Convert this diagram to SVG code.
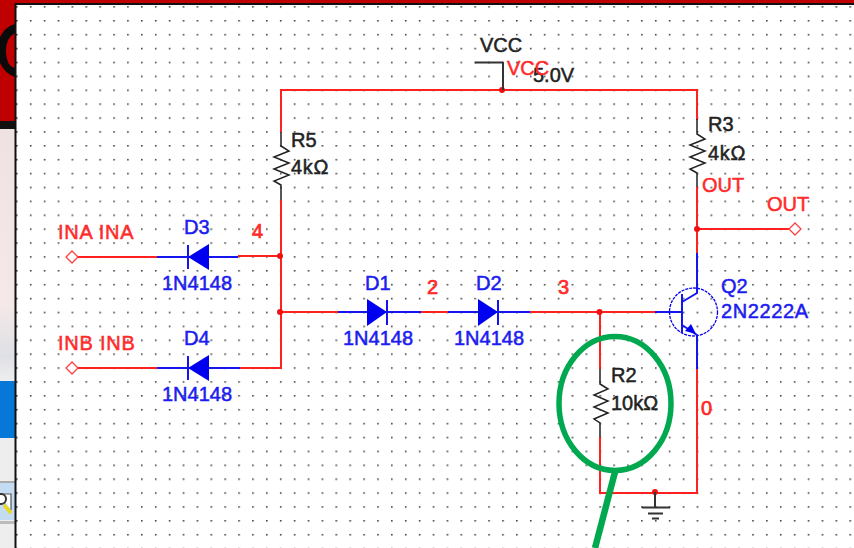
<svg xmlns="http://www.w3.org/2000/svg" width="854" height="548" viewBox="0 0 854 548">
<style>
text{font-family:"Liberation Sans",Arial,sans-serif;font-size:20px;stroke-width:.5}
.k{fill:#222;stroke:#222}.r{fill:#ff2a2a;stroke:#ff2a2a}.b{fill:#1c1cf0;stroke:#1c1cf0}
.n{stroke-width:.7}
.s{letter-spacing:.75px}
.wr,.wk{fill:none;stroke-width:2}
.wr{stroke:#ff2020}.wk{stroke:#333}
.dot{fill:#f01010}
.di{fill:#0000f0}
.ln{fill:none;stroke:#1515f0;stroke-width:2}
.port{fill:#fff;stroke:#ff4040;stroke-width:1.3}
.res{fill:none;stroke:#222;stroke-width:1.5}
.green{fill:none;stroke:#00a850}
</style>
<defs>
<pattern id="grid" x="16" y="6.100" width="13.89" height="13.89" patternUnits="userSpaceOnUse"><rect x="0" y="0" width="1.6" height="1.6" fill="#444"/></pattern>
<linearGradient id="pk" x1="0" y1="0" x2="0" y2="1"><stop offset="0" stop-color="#efe2e2"/><stop offset="0.7" stop-color="#f5e8e8"/><stop offset="0.9" stop-color="#dfe0e6"/><stop offset="1" stop-color="#eeeeee"/></linearGradient>
</defs>
<g id="background">
<rect width="854" height="548" fill="#fff"/>
<rect width="854" height="548" fill="url(#grid)"/>
<rect x="0" y="0" width="854" height="3" fill="#c00000"/>
<rect x="0" y="3" width="854" height="2" fill="#111"/>
<rect x="0" y="0" width="15" height="121" fill="#c00000"/>
<path d="M15 24Q0 28 -4 50Q0 72 15 77V68Q6 66 6 50Q6 38 15 33Z" fill="#0a0a0a"/>
<rect x="0" y="121" width="15" height="8" fill="#111"/>
<rect x="0" y="129" width="15" height="252" fill="url(#pk)"/>
<rect x="0" y="381" width="15" height="57" fill="#0878d8"/>
<rect x="0" y="438" width="15" height="110" fill="#eeeeee"/>
<rect x="0" y="481" width="15" height="2" fill="#aaa"/>
<rect x="0" y="483" width="15" height="37" fill="#c4dcf2"/>
<rect x="0" y="521" width="15" height="3" fill="#bbb"/>
<path d="M0 494H11V510" stroke="#555" stroke-width="1.200" fill="#fff"/>
<circle cx="1" cy="499" r="5" fill="#fff" stroke="#333" stroke-width="2"/>
<path d="M4 505L11 513" stroke="#e8d820" stroke-width="3.500" fill="none"/>
<rect x="14.500" y="3" width="2" height="545" fill="#111"/>
</g>
<g id="connectors">
<path class="wr" d="M281 132V90H697V120"/>
<path class="wr" d="M697 187V253M697 229H789"/>
<path class="wr" d="M281 200V368H240M281 256H238M281 312H338M78 257H157M78 368H157M421 312H448M530 312H655"/>
<path class="wr" d="M600 312V369M600 437V493H697V369"/>
<circle class="dot" cx="502" cy="90" r="3"/>
<circle class="dot" cx="697" cy="229" r="3"/>
<circle class="dot" cx="280" cy="256" r="3"/>
<circle class="dot" cx="280" cy="312" r="3"/>
<circle class="dot" cx="599.500" cy="312" r="3"/>
<circle class="dot" cx="655" cy="492" r="3"/>
</g>
<g id="VCC">
<path class="wk" d="M475 62.500H503M503 62V90"/>
<text class="k" x="480" y="52">VCC</text>
<text class="k" x="533" y="82">5.0V</text>
<text class="r" x="507" y="75">VCC</text>
</g>
<g id="R5">
<path class="res" d="M281 132V146L289 151L274 157L289 163L274 169L289 175L274 181L281 185V200"/>
<text class="k" x="291" y="147">R5</text>
<text class="k s" x="291" y="174">4kΩ</text>
</g>
<g id="R3">
<path class="res" d="M697 119V134L705 139L690 145L705 151L690 157L705 163L690 169L697 173V187"/>
<text class="k" x="708" y="131">R3</text>
<text class="k s" x="708" y="160">4kΩ</text>
<text class="r" x="702" y="192">OUT</text>
</g>
<g id="OUT">
<path class="port" d="M795 223L801 229L795 235L789 229Z"/>
<text class="r" x="767" y="211">OUT</text>
</g>
<g id="INA">
<path class="port" d="M72 251L78 257L72 263L66 257Z"/>
<text class="r s" x="58" y="239">INA INA</text>
</g>
<g id="INB">
<path class="port" d="M72 362L78 368L72 374L66 368Z"/>
<text class="r s" x="58" y="350">INB INB</text>
</g>
<g id="D3">
<path class="ln" d="M157 257H238M188 245V269"/>
<path class="di" d="M188 257L209 244V270Z"/>
<text class="b" x="184" y="234">D3</text>
<text class="b" x="162" y="290">1N4148</text>
</g>
<g id="D4">
<path class="ln" d="M157 368H240M188 356V380"/>
<path class="di" d="M188 368L209 355V381Z"/>
<text class="b" x="184" y="345">D4</text>
<text class="b" x="162" y="401">1N4148</text>
</g>
<g id="D1">
<path class="ln" d="M338 312H421M387 300V325"/>
<path class="di" d="M387 312L367 299V326Z"/>
<text class="b" x="365" y="290">D1</text>
<text class="b" x="343" y="345">1N4148</text>
</g>
<g id="D2">
<path class="ln" d="M448 312H530M498 300V325"/>
<path class="di" d="M498 312L478 299V326Z"/>
<text class="b" x="476" y="290">D2</text>
<text class="b" x="454" y="345">1N4148</text>
</g>
<g id="Q2">
<circle cx="693.500" cy="312" r="24" fill="none" stroke="#0000f0" stroke-width="1.300" stroke-dasharray="3 1"/>
<path class="ln" d="M655 312H682M682 294V333M682 302L697 293V253M682 325L697 335V369"/>
<path class="di" d="M696 334L685 331L691 324Z"/>
<text class="b" x="721" y="293">Q2</text>
<text class="b" x="721" y="318" style="letter-spacing:.6px">2N2222A</text>
</g>
<g id="R2">
<path class="res" d="M600 369V384L608 389L594 395L608 401L594 407L608 413L594 419L600 423V437"/>
<text class="k" x="611" y="382">R2</text>
<text class="k" x="611" y="410">10kΩ</text>
</g>
<g id="GND">
<path class="wk" d="M655 492V507M642 507.500H670M648 513.500H663M652 518.500H659"/>
</g>
<g id="nets">
<text class="r n" x="252" y="238">4</text>
<text class="r n" x="427" y="294">2</text>
<text class="r n" x="558" y="294">3</text>
<text class="r n" x="701" y="415">0</text>
</g>
<g id="annotation">
<ellipse class="green" cx="615" cy="403.500" rx="56" ry="67" stroke-width="5.500"/>
<path class="green" d="M615 472L595 548" stroke-width="6.500"/>
</g>
</svg>
